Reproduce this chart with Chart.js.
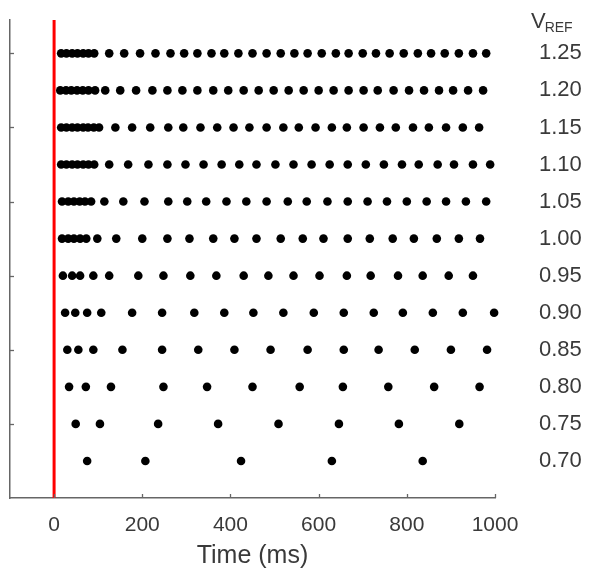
<!DOCTYPE html>
<html><head><meta charset="utf-8">
<script src="https://cdn.jsdelivr.net/npm/chart.js@4/dist/chart.umd.min.js"></script>
<style>html,body{margin:0;padding:0;background:#fff}</style>
</head><body>
<canvas id="c" width="589" height="576"></canvas>
<script>
// V_REF levels (rows) and spike times (ms) for each level
const vrefLevels = [1.25, 1.20, 1.15, 1.10, 1.05, 1.00, 0.95, 0.90, 0.85, 0.80, 0.75, 0.70];
const t125 = [16,28,41,53,66,78,91,125,159,195,230,264,295,325,357,386,418,450,482,514,545,575,607,639,668,700,730,761,793,825,855,886,918,950,980];
const t120 = [14,27,39,52,65,78,93,116,150,186,223,257,291,325,361,395,430,464,498,532,566,600,634,668,702,734,770,805,839,873,905,939,973];
const t115 = [16,28,41,53,66,77,90,102,139,177,218,259,293,332,370,407,443,482,520,555,593,630,664,702,739,775,814,850,889,927,964];
const t110 = [16,28,41,53,66,78,91,125,168,214,257,298,339,380,420,459,502,543,584,625,666,707,748,789,827,870,907,950,989];
const t105 = [18,32,45,58,70,84,114,157,205,259,302,345,391,436,482,530,573,620,666,711,755,800,845,889,934,980];
const t100 = [18,32,45,59,73,98,141,200,257,307,361,409,459,514,564,611,666,716,768,816,868,918,966];
const t095 = [20,41,59,89,125,191,248,309,368,430,486,543,602,664,718,780,836,895,950];
const t090 = [25,48,75,107,177,245,318,386,452,520,589,657,725,791,859,927,998];
const t085 = [30,55,89,155,245,327,409,491,575,657,736,818,900,982];
const t080 = [34,72,129,248,347,450,557,655,758,862,965];
const t075 = [49,104,236,372,509,646,782,919];
const t070 = [75,207,424,630,836];
const spikeRows = [t125, t120, t115, t110, t105, t100, t095, t090, t085, t080, t075, t070];

const xTicks = [0, 200, 400, 600, 800, 1000];
const leftYTicks = [0.75, 0.85, 0.95, 1.05, 1.15, 1.25];
const xMin = -100, xMax = 1000, yMin = 0.65, yMax = 1.295;
const stimulusTime = 0;

const FONT = "'Liberation Sans', Arial, sans-serif";
const TEXT = '#3a3a3a';
const AXIS = '#666666';
const LABEL_GAP = 36;

const datasets = spikeRows.map((times, i) => ({
  type: 'scatter',
  data: times.map(t => ({x: t, y: vrefLevels[i]})),
  backgroundColor: '#000',
  borderWidth: 0,
  pointRadius: 4.3,
  pointHoverRadius: 4.3,
  showLine: false,
  clip: false
}));
datasets.push({
  type: 'line',
  data: [{x: stimulusTime, y: yMin}, {x: stimulusTime, y: yMax}],
  borderColor: '#ff0000',
  borderWidth: 3,
  pointRadius: 0,
  fill: false,
  clip: false
});

const inwardTicks = {
  id: 'inwardTicks',
  afterDraw(chart) {
    const ctx = chart.ctx, xs = chart.scales.x, ys = chart.scales.y, y2 = chart.scales.y2;
    const a = chart.chartArea;
    ctx.save();
    ctx.strokeStyle = AXIS; ctx.lineWidth = 1.3;
    leftYTicks.forEach(v => {
      const py = Math.round(ys.getPixelForValue(v)) + 0.5;
      ctx.beginPath(); ctx.moveTo(a.left, py); ctx.lineTo(a.left + 4, py); ctx.stroke();
    });
    xTicks.forEach(v => {
      const px = Math.round(xs.getPixelForValue(v)) + 0.5;
      ctx.beginPath(); ctx.moveTo(px, a.bottom); ctx.lineTo(px, a.bottom - 4); ctx.stroke();
    });
    // V_REF header above right labels
    const lx = y2.left + LABEL_GAP;
    const ly = y2.getPixelForValue(vrefLevels[0]) - 31;
    ctx.fillStyle = TEXT;
    ctx.textBaseline = 'middle';
    ctx.textAlign = 'left';
    ctx.font = '22px ' + FONT;
    ctx.fillText('V', lx, ly);
    const w = ctx.measureText('V').width;
    ctx.font = '14px ' + FONT;
    ctx.fillText('REF', lx + w - 1, ly + 6);
    ctx.restore();
  }
};

new Chart(document.getElementById('c'), {
  data: { datasets },
  options: {
    responsive: false,
    animation: false,
    layout: { padding: { top: 20, left: 0, right: 0, bottom: 0 } },
    plugins: { legend: { display: false }, tooltip: { enabled: false } },
    scales: {
      x: {
        type: 'linear', min: xMin, max: xMax,
        afterBuildTicks: s => { s.ticks = xTicks.map(v => ({value: v})); },
        afterFit: s => { s.height = 78; s.paddingLeft = 0; s.paddingRight = 0; },
        grid: { display: false },
        border: { display: true, color: AXIS, width: 1.5 },
        ticks: { color: TEXT, font: { family: FONT, size: 21 }, padding: 7, maxRotation: 0, autoSkip: false,
                 callback: v => String(v) },
        title: { display: true, text: 'Time (ms)', color: TEXT, font: { family: FONT, size: 25 }, padding: { top: 2, bottom: 5 } }
      },
      y: {
        type: 'linear', position: 'left', min: yMin, max: yMax,
        afterBuildTicks: s => { s.ticks = leftYTicks.map(v => ({value: v})); },
        afterFit: s => { s.width = 10; s.paddingTop = 0; s.paddingBottom = 0; },
        grid: { display: false },
        border: { display: true, color: AXIS, width: 1.5 },
        ticks: { display: false }
      },
      y2: {
        type: 'linear', position: 'right', min: yMin, max: yMax,
        afterBuildTicks: s => { s.ticks = vrefLevels.map(v => ({value: v})); },
        afterFit: s => { s.width = 94; s.paddingTop = 0; s.paddingBottom = 0; },
        grid: { display: false },
        border: { display: false },
        ticks: { color: TEXT, font: { family: FONT, size: 22 }, padding: LABEL_GAP, autoSkip: false,
                 callback: v => Number(v).toFixed(2) }
      }
    }
  },
  plugins: [inwardTicks]
});
</script>
</body></html>
